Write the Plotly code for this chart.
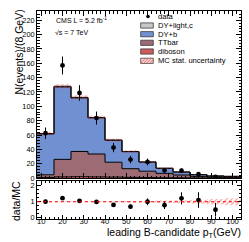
import plotly.graph_objects as go

# ---------------- data ----------------
bin_edges = [8, 16, 24, 32, 40, 48, 56, 64, 72, 80, 88, 96, 104]
bin_centers = [12, 20, 28, 36, 44, 52, 60, 68, 76, 84, 92, 100]

diboson = [0.8, 1.5, 1.8, 1.5, 1.2, 0.9, 0.6, 0.4, 0.3, 0.2, 0.1, 0.1]
ttbar = [3.7, 24.5, 35.2, 32.0, 20.8, 12.1, 8.9, 6.1, 3.9, 2.1, 1.2, 0.9]
dy_b = [56.9, 101.0, 74.7, 50.4, 30.6, 23.7, 12.7, 7.0, 4.1, 2.35, 1.45, 1.25]
dy_lightc = [0.6, 1.0, 0.8, 0.6, 0.4, 0.3, 0.2, 0.1, 0.1, 0.05, 0.05, 0.05]
mc_stat_err = [2.2, 3.0, 2.8, 2.4, 2.0, 1.6, 1.2, 1.0, 0.8, 0.6, 0.5, 0.5]

data_x = [12, 20, 28, 36, 44, 52, 60, 68, 76, 84, 92]
data_y = [62.5, 157, 118.6, 83.6, 42.5, 25.7, 22.4, 10.7, 10.2, 5.2, 1.4]
data_err = [7.9, 12.5, 10.9, 9.1, 6.5, 5.1, 4.7, 3.3, 3.2, 2.3, 1.2]

x_ticks = [10, 20, 30, 40, 50, 60, 70, 80, 90, 100]
y_ticks = [0, 20, 40, 60, 80, 100, 120, 140, 160, 180, 200, 220]
ratio_ticks = [0, 1, 2]

legend_labels = ["data", "DY+light,c", "DY+b", "TTbar", "diboson", "MC stat. uncertainty"]

# ---------------- styles ----------------
C_GRAY = "rgb(200,200,200)"
C_BLUE = "rgb(112,144,210)"
C_TT = "rgb(156,107,116)"
C_DB = "rgb(210,90,90)"
C_HATCH = "rgb(235,60,60)"
FONT = "Liberation Sans, Arial, sans-serif"

W, H = 249, 242
ML, MR, MT, MB = 37, 8, 11, 23
PW, PH = W - ML - MR, H - MT - MB


def fx(px):
    return (px - ML) / PW


def fy(py):
    return (H - MB - py) / PH


def step(v):
    return list(v) + [v[-1]]


total = [a + b + c + d for a, b, c, d in zip(diboson, ttbar, dy_b, dy_lightc)]
band_lo = [t - e for t, e in zip(total, mc_stat_err)]
band_hi = [t + e for t, e in zip(total, mc_stat_err)]
r_lo = [1 - e / t for t, e in zip(total, mc_stat_err)]
r_hi = [1 + e / t for t, e in zip(total, mc_stat_err)]
ratio = [d / t for d, t in zip(data_y, total)]
ratio_err = [e / t for e, t in zip(data_err, total)]

fig = go.Figure()

for vals, col in [(diboson, C_DB), (ttbar, C_TT), (dy_b, C_BLUE), (dy_lightc, C_GRAY)]:
    fig.add_trace(go.Scatter(
        x=bin_edges, y=step(vals), mode="lines",
        line=dict(shape="hv", color="black", width=1),
        stackgroup="mc", fillcolor=col, xaxis="x", yaxis="y",
        showlegend=False, hoverinfo="skip"))

pattern = dict(shape="/", fgcolor=C_HATCH, bgcolor="rgba(255,255,255,0)",
               size=3.5, solidity=0.35)

fig.add_trace(go.Scatter(x=bin_edges, y=step(band_lo), mode="lines",
                         line=dict(shape="hv", width=0, color="rgba(0,0,0,0)"),
                         xaxis="x", yaxis="y", showlegend=False, hoverinfo="skip"))
fig.add_trace(go.Scatter(x=bin_edges, y=step(band_hi), mode="lines",
                         line=dict(shape="hv", width=0, color="rgba(0,0,0,0)"),
                         fill="tonexty", fillcolor="rgba(255,120,120,0.15)",
                         fillpattern=pattern,
                         xaxis="x", yaxis="y", showlegend=False, hoverinfo="skip"))

fig.add_trace(go.Scatter(
    x=data_x, y=data_y, mode="markers",
    marker=dict(color="black", size=4.8),
    error_y=dict(type="data", array=data_err, width=0, thickness=1, color="black"),
    xaxis="x", yaxis="y", showlegend=False, hoverinfo="skip"))

# ratio pad
fig.add_trace(go.Scatter(x=bin_edges, y=step(r_lo), mode="lines",
                         line=dict(shape="hv", width=0, color="rgba(0,0,0,0)"),
                         xaxis="x2", yaxis="y2", showlegend=False, hoverinfo="skip"))
fig.add_trace(go.Scatter(x=bin_edges, y=step(r_hi), mode="lines",
                         line=dict(shape="hv", width=0, color="rgba(0,0,0,0)"),
                         fill="tonexty", fillcolor="rgba(255,120,120,0.15)",
                         fillpattern=pattern,
                         xaxis="x2", yaxis="y2", showlegend=False, hoverinfo="skip"))
fig.add_trace(go.Scatter(
    x=data_x, y=ratio, mode="markers",
    marker=dict(color="black", size=4.8),
    error_y=dict(type="data", array=ratio_err, width=0, thickness=1, color="black"),
    xaxis="x2", yaxis="y2", showlegend=False, hoverinfo="skip"))

axis_common = dict(showline=True, linecolor="black", linewidth=1, mirror="ticks",
                   ticks="inside", tickcolor="black", showgrid=False, zeroline=False)
yfont = dict(family=FONT, size=7.3, color="black")
xfont = dict(family=FONT, size=7.6, color="black")

fig.update_layout(
    width=W, height=H,
    margin=dict(l=ML, r=MR, t=MT, b=MB),
    paper_bgcolor="white", plot_bgcolor="white",
    font=dict(family=FONT, color="black"),
    xaxis=dict(domain=[0, 1], range=[bin_edges[0], bin_edges[-1]], anchor="y",
               tickvals=x_ticks, showticklabels=False, ticklen=5, tickfont=xfont,
               minor=dict(ticks="inside", ticklen=2.5, dtick=2, tick0=0, tickcolor="black"),
               matches="x2", **axis_common),
    yaxis=dict(domain=[fy(178), 1], range=[0, 233], anchor="x",
               tickvals=y_ticks, ticklen=5, tickfont=yfont,
               minor=dict(ticks="inside", ticklen=2.5, dtick=4, tick0=0, tickcolor="black"),
               **axis_common),
    xaxis2=dict(domain=[0, 1], range=[bin_edges[0], bin_edges[-1]], anchor="y2",
                tickvals=x_ticks, ticklen=4, ticklabelstandoff=-5, tickfont=xfont,
                minor=dict(ticks="inside", ticklen=2, dtick=2, tick0=0, tickcolor="black"),
                **axis_common),
    yaxis2=dict(domain=[0, fy(181)], range=[-0.08, 2.3], anchor="x2",
                tickvals=ratio_ticks, ticklen=4, tickfont=yfont,
                minor=dict(ticks="inside", ticklen=2, dtick=0.25, tick0=0, tickcolor="black"),
                **axis_common),
)

shapes = [dict(type="line", xref="x2", yref="y2", x0=bin_edges[0], x1=bin_edges[-1],
               y0=1, y1=1, line=dict(color="red", width=1, dash="dot"), layer="above")]

# manual legend
rows = [16.5, 25.5, 34.2, 42.8, 51.5, 60.8]
sw_x0, sw_x1 = 140.7, 153.3
shapes.append(dict(type="circle", xref="paper", yref="paper",
                   x0=fx(148 - 1.8), x1=fx(148 + 1.8),
                   y0=fy(rows[0] + 1.8), y1=fy(rows[0] - 1.8),
                   fillcolor="black", line=dict(width=0)))
for r, col in zip(rows[1:], [C_GRAY, C_BLUE, C_TT, C_DB, "rgb(252,215,215)"]):
    shapes.append(dict(type="rect", xref="paper", yref="paper",
                       x0=fx(sw_x0), x1=fx(sw_x1), y0=fy(r + 2.6), y1=fy(r - 2.6),
                       fillcolor=col, line=dict(color="rgb(60,60,60)", width=0.8)))
r = rows[5]
for k in range(5):
    xa = sw_x0 + k * 3.0
    xb = min(xa + 4.5, sw_x1)
    shapes.append(dict(type="line", xref="paper", yref="paper",
                       x0=fx(xa), x1=fx(xb),
                       y0=fy(r + 2.2), y1=fy(r + 2.2 - 4.4 * (xb - xa) / 4.5),
                       line=dict(color=C_HATCH, width=0.7)))

annotations = []
for r, lab in zip(rows, legend_labels):
    annotations.append(dict(text=lab, xref="paper", yref="paper", x=fx(155.5), y=fy(r),
                            xanchor="left", yanchor="middle", showarrow=False,
                            font=dict(family=FONT, size=7.6, color="black")))

annotations += [
    dict(text="CMS L = 5.2 fb<sup>-1</sup>", xref="paper", yref="paper",
         x=fx(54), y=fy(20.5), xanchor="left", yanchor="middle", showarrow=False,
         font=dict(family=FONT, size=7, color="black")),
    dict(text="\u221As = 7 TeV", xref="paper", yref="paper",
         x=fx(52.5), y=fy(33), xanchor="left", yanchor="middle", showarrow=False,
         font=dict(family=FONT, size=7, color="black")),
    dict(text="leading B-candidate p<sub>T</sub>(GeV)", xref="paper", yref="paper",
         x=fx(243), y=fy(242), xanchor="right", yanchor="bottom", showarrow=False,
         font=dict(family=FONT, size=10.5, color="black")),
    dict(text="N(events)/(8 GeV)", xref="paper", yref="paper",
         x=fx(18), y=fy(8), xanchor="center", yanchor="top", textangle=-90,
         showarrow=False, font=dict(family=FONT, size=10.5, color="black")),
    dict(text="data/MC", xref="paper", yref="paper",
         x=fx(16), y=fy(201), xanchor="center", yanchor="middle", textangle=-90,
         showarrow=False, font=dict(family=FONT, size=10.5, color="black")),
]

fig.update_layout(shapes=shapes, annotations=annotations)

fig.write_html("out.html", config={"displayModeBar": False},
               post_script="document.body.style.margin='0px';document.body.style.overflow='hidden';")
